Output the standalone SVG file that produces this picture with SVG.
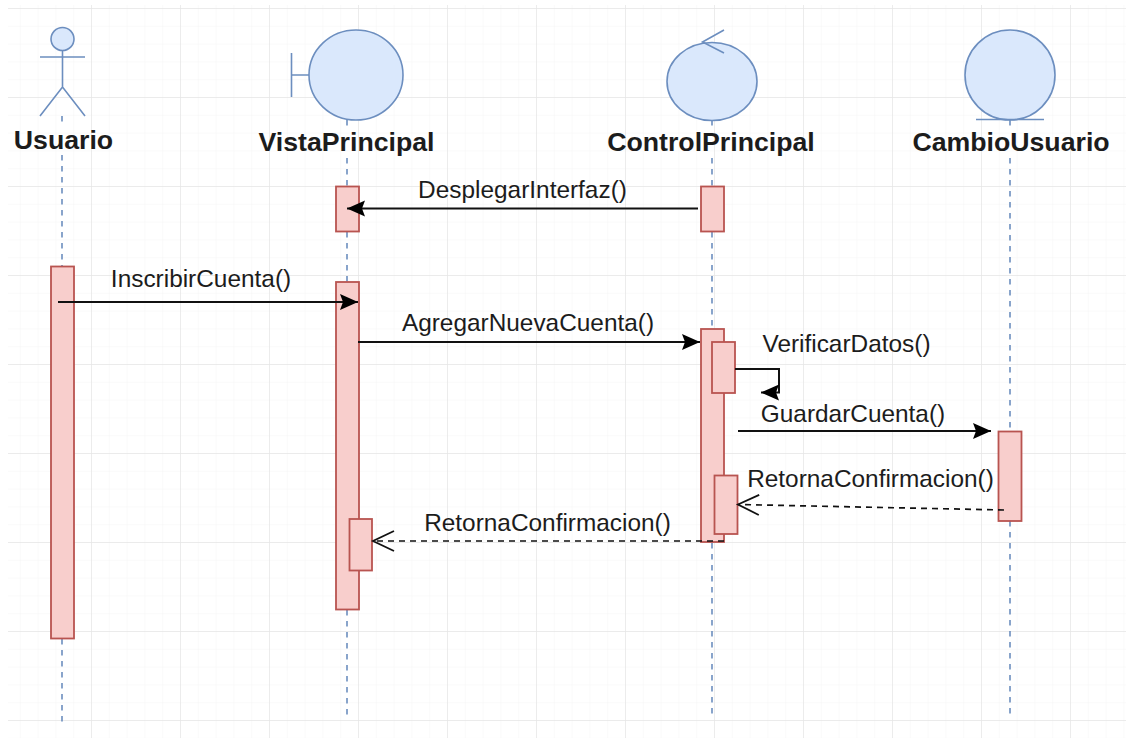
<svg xmlns="http://www.w3.org/2000/svg" width="1126" height="738" viewBox="0 0 1126 738">
<defs>
<pattern id="minor" x="2" y="8" width="17.8" height="17.8" patternUnits="userSpaceOnUse"><path d="M0 0V17.8M0 0H17.8" fill="none" stroke="#f5f5f5" stroke-width="1"/></pattern>
<pattern id="major" x="2" y="8" width="89" height="89" patternUnits="userSpaceOnUse"><path d="M0 0V89M0 0H89" fill="none" stroke="#e6e6e6" stroke-width="1.4"/></pattern>
<marker id="solid" markerUnits="userSpaceOnUse" markerWidth="20" markerHeight="18" refX="18" refY="8" orient="auto"><path d="M0 0L18 8L0 16L3 8Z" fill="#000"/></marker>
<marker id="open" markerUnits="userSpaceOnUse" markerWidth="26" markerHeight="26" refX="23" refY="13" orient="auto"><path d="M2 3L23 13L2 23" fill="none" stroke="#111" stroke-width="1.800"/></marker>
</defs>
<style>
.life{stroke:#6c8ebf;stroke-width:1.600;stroke-dasharray:5.500 5.500;fill:none}
.shape{fill:#dae8fc;stroke:#6c8ebf;stroke-width:1.600}
.line{fill:none;stroke:#6c8ebf;stroke-width:1.600}
.act{fill:#f8cecc;stroke:#b85450;stroke-width:1.800}
.msg{fill:none;stroke:#111;stroke-width:2}
.dash{stroke-dasharray:6 5;stroke-width:1.700}
text{font-family:"Liberation Sans",Arial,sans-serif;fill:#1c1c1c}
.name{font-size:26.700px;font-weight:bold;text-anchor:middle}
.lab{font-size:24.400px;text-anchor:middle}
</style>
<rect width="1126" height="738" fill="#fff"/>
<g id="grid">
<rect x="8" y="5" width="1118" height="733" fill="url(#minor)"/>
<rect x="8" y="5" width="1118" height="733" fill="url(#major)"/>
</g>
<g id="lifelines">
<path class="life" d="M62 116V127M62 155V266M62 639V722"/>
<path class="life" d="M347 120V126M347 158V186M347 232V282M347 610V716"/>
<path class="life" d="M712 120V126M712 158V186M712 232V329M712 543V716"/>
<path class="life" d="M1010 120V126M1010 158V431M1010 521V716"/>
</g>
<g id="Usuario">
<circle class="shape" cx="62.500" cy="39" r="11.500"/>
<path class="line" d="M62.500 50.500V87M40 57H85M40 116L62.500 87L85 116"/>
<text class="name" x="63.500" y="148.500">Usuario</text>
</g>
<g id="VistaPrincipal">
<path class="line" d="M291.500 53V97M291.500 75H310"/>
<ellipse class="shape" cx="356" cy="75" rx="47" ry="45"/>
<text class="name" x="346.500" y="151">VistaPrincipal</text>
</g>
<g id="ControlPrincipal">
<ellipse class="shape" cx="712" cy="81.500" rx="45" ry="39"/>
<path class="line" d="M724 30L702.500 42L724 53"/>
<text class="name" x="711" y="151">ControlPrincipal</text>
</g>
<g id="CambioUsuario">
<circle class="shape" cx="1010" cy="75" r="45"/>
<path class="line" d="M976 119.500H1044"/>
<text class="name" x="1011" y="151">CambioUsuario</text>
</g>
<g id="activations">
<rect class="act" x="336" y="186.500" width="23" height="45"/>
<rect class="act" x="701" y="186.500" width="23" height="45"/>
<rect class="act" x="51" y="266.500" width="23" height="372"/>
<rect class="act" x="336" y="282" width="23" height="327.500"/>
<rect class="act" x="701" y="329" width="23" height="213"/>
<rect class="act" x="712" y="342" width="23" height="51"/>
<rect class="act" x="714.500" y="475.500" width="23" height="58.500"/>
<rect class="act" x="998.500" y="431.500" width="23" height="89.500"/>
<rect class="act" x="349.500" y="519" width="22.500" height="51.500"/>
</g>
<g id="connectors">
<path class="msg" marker-end="url(#solid)" d="M698 208.500H347"/>
<path class="msg" marker-end="url(#solid)" d="M58 302H358"/>
<path class="msg" marker-end="url(#solid)" d="M358 342H700"/>
<path class="msg" marker-end="url(#solid)" d="M735 369H779V392.500H761"/>
<path class="msg" marker-end="url(#solid)" d="M738 431H991"/>
<path class="msg dash" marker-end="url(#open)" d="M1004 510L738 504.500"/>
<path class="msg dash" marker-end="url(#open)" d="M724 541H373"/>
</g>
<g id="labels">
<text class="lab" x="522.500" y="198">DesplegarInterfaz()</text>
<text class="lab" x="201" y="287">InscribirCuenta()</text>
<text class="lab" x="528" y="331">AgregarNuevaCuenta()</text>
<text class="lab" x="846.500" y="352">VerificarDatos()</text>
<text class="lab" x="853" y="422">GuardarCuenta()</text>
<text class="lab" x="870.500" y="487">RetornaConfirmacion()</text>
<text class="lab" x="547.500" y="530.500">RetornaConfirmacion()</text>
</g>
</svg>
